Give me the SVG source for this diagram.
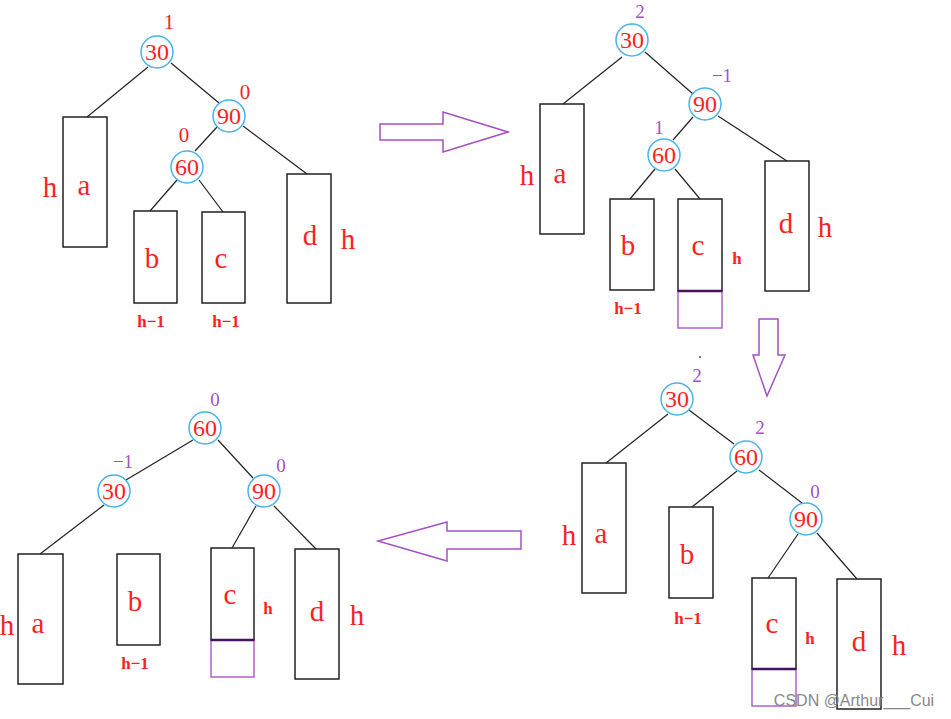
<svg xmlns="http://www.w3.org/2000/svg" width="951" height="719" viewBox="0 0 951 719">
<style>
text{font-family:"Liberation Serif",serif;fill:#ff1f1f;text-anchor:middle}
.n{font-size:24px}
.L{font-size:29px}
.s{font-size:17px;font-weight:bold}
.bf{font-size:21px}
.p{fill:#a64fc4;font-size:19px}
circle{fill:none;stroke:#45b4ea;stroke-width:1.5}
rect.t{fill:none;stroke:#222;stroke-width:1.5}
rect.x{fill:none;stroke:#b060c8;stroke-width:1.5}
line{stroke:#222;stroke-width:1.2}
.ar{fill:#fff;stroke:#a64fc4;stroke-width:1.5}
.dl{stroke:#4a1060;stroke-width:2.5}
</style>
<rect width="951" height="719" fill="#fff"/>
<g id="connectors">
<line x1="148" y1="67" x2="87" y2="117"/><line x1="171" y1="63" x2="219" y2="103"/>
<line x1="217" y1="127" x2="195" y2="151"/><line x1="243" y1="126" x2="307" y2="174"/>
<line x1="177" y1="180" x2="150" y2="211"/><line x1="199" y1="180" x2="223" y2="212"/>
<line x1="622" y1="57" x2="563" y2="104"/><line x1="645" y1="52" x2="693" y2="94"/>
<line x1="693" y1="117" x2="673" y2="140"/><line x1="718" y1="116" x2="787" y2="161"/>
<line x1="655" y1="169" x2="630" y2="199"/><line x1="675" y1="169" x2="700" y2="199"/>
<line x1="668" y1="414" x2="606" y2="463"/><line x1="689" y1="410" x2="734" y2="444"/>
<line x1="737" y1="471" x2="692" y2="507"/><line x1="759" y1="470" x2="802" y2="503"/>
<line x1="798" y1="534" x2="768" y2="578"/><line x1="817" y1="533" x2="857" y2="579"/>
<line x1="193" y1="440" x2="126" y2="480"/><line x1="218" y1="440" x2="253" y2="478"/>
<line x1="104" y1="505" x2="40" y2="554"/><line x1="256" y1="506" x2="232" y2="548"/>
<line x1="274" y1="506" x2="316" y2="549"/>
</g>
<g id="arrows">
<polygon class="ar" points="380,124 443,124 443,112 508,132 443,152 443,140 380,140"/>
<polygon class="ar" points="759,319 778,319 778,355 785,355 767,396 753,355 759,355"/>
<polygon class="ar" points="521,531 447,531 447,522 378,541 447,561 447,549 521,549"/>
</g>
<g id="tree1">
<g id="t1-30"><circle cx="157" cy="52" r="16"/><text class="n" x="157" y="60">30</text><text class="bf" x="169" y="29">1</text></g>
<g id="t1-90"><circle cx="229" cy="116" r="16"/><text class="n" x="229" y="124">90</text><text class="bf" x="245" y="99">0</text></g>
<g id="t1-60"><circle cx="187" cy="167" r="16"/><text class="n" x="187" y="175">60</text><text class="bf" x="184" y="142">0</text></g>
<g id="t1-a"><rect class="t" x="63" y="117" width="44" height="130"/><text class="L" x="84" y="195">a</text><text class="L" x="50" y="197">h</text></g>
<g id="t1-b"><rect class="t" x="134" y="211" width="43" height="92"/><text class="L" x="152" y="268">b</text><text class="s" x="151" y="327">h−1</text></g>
<g id="t1-c"><rect class="t" x="202" y="212" width="43" height="91"/><text class="L" x="221" y="268">c</text><text class="s" x="226" y="327">h−1</text></g>
<g id="t1-d"><rect class="t" x="287" y="174" width="44" height="129"/><text class="L" x="310" y="245">d</text><text class="L" x="348" y="249">h</text></g>
</g>
<g id="tree2">
<g id="t2-30"><circle cx="632" cy="40" r="16"/><text class="n" x="632" y="48">30</text><text class="p" x="640" y="18">2</text></g>
<g id="t2-90"><circle cx="705" cy="104" r="16"/><text class="n" x="705" y="112">90</text><text class="p" x="722" y="82">−1</text></g>
<g id="t2-60"><circle cx="664" cy="155" r="16"/><text class="n" x="664" y="163">60</text><text class="p" x="659" y="134">1</text></g>
<g id="t2-a"><rect class="t" x="540" y="104" width="44" height="130"/><text class="L" x="560" y="183">a</text><text class="L" x="527" y="185">h</text></g>
<g id="t2-b"><rect class="t" x="610" y="199" width="44" height="91"/><text class="L" x="628" y="255">b</text><text class="s" x="628" y="314">h−1</text></g>
<g id="t2-c"><rect class="x" x="678" y="291" width="44" height="37"/><rect class="t" x="678" y="199" width="44" height="92"/><line class="dl" x1="678" y1="291" x2="722" y2="291"/><text class="L" x="698" y="255">c</text><text class="s" x="737" y="264">h</text></g>
<g id="t2-d"><rect class="t" x="765" y="161" width="44" height="130"/><text class="L" x="786" y="233">d</text><text class="L" x="825" y="237">h</text></g>
</g>
<g id="tree3">
<g id="t3-30"><circle cx="677" cy="399" r="16"/><text class="n" x="677" y="407">30</text><text class="p" x="697" y="382">2</text><circle cx="700" cy="357" r="1" style="fill:#4040c0;stroke:none"/></g>
<g id="t3-60"><circle cx="746" cy="457" r="16"/><text class="n" x="746" y="465">60</text><text class="p" x="760" y="434">2</text></g>
<g id="t3-90"><circle cx="806" cy="519" r="16"/><text class="n" x="806" y="527">90</text><text class="p" x="815" y="498">0</text></g>
<g id="t3-a"><rect class="t" x="582" y="463" width="44" height="130"/><text class="L" x="601" y="543">a</text><text class="L" x="569" y="545">h</text></g>
<g id="t3-b"><rect class="t" x="669" y="507" width="44" height="91"/><text class="L" x="687" y="564">b</text><text class="s" x="688" y="624">h−1</text></g>
<g id="t3-c"><rect class="x" x="752" y="669" width="44" height="37"/><rect class="t" x="752" y="578" width="44" height="91"/><line class="dl" x1="752" y1="669" x2="796" y2="669"/><text class="L" x="772" y="633">c</text><text class="s" x="810" y="644">h</text></g>
<g id="t3-d"><rect class="t" x="837" y="579" width="44" height="130"/><text class="L" x="859" y="651">d</text><text class="L" x="899" y="655">h</text></g>
</g>
<g id="tree4">
<g id="t4-60"><circle cx="205" cy="428" r="16"/><text class="n" x="205" y="436">60</text><text class="p" x="215" y="406">0</text></g>
<g id="t4-30"><circle cx="114" cy="491" r="16"/><text class="n" x="114" y="499">30</text><text class="p" x="123" y="468">−1</text></g>
<g id="t4-90"><circle cx="264" cy="491" r="16"/><text class="n" x="264" y="499">90</text><text class="p" x="281" y="472">0</text></g>
<g id="t4-a"><rect class="t" x="18" y="554" width="45" height="130"/><text class="L" x="38" y="633">a</text><text class="L" x="7" y="635">h</text></g>
<g id="t4-b"><rect class="t" x="117" y="554" width="43" height="91"/><text class="L" x="135" y="611">b</text><text class="s" x="135" y="669">h−1</text></g>
<g id="t4-c"><rect class="x" x="211" y="640" width="43" height="37"/><rect class="t" x="211" y="548" width="43" height="92"/><line class="dl" x1="211" y1="640" x2="254" y2="640"/><text class="L" x="230" y="604">c</text><text class="s" x="268" y="614">h</text></g>
<g id="t4-d"><rect class="t" x="295" y="549" width="44" height="130"/><text class="L" x="317" y="621">d</text><text class="L" x="357" y="625">h</text></g>
</g>
<text x="854" y="706" style="font-family:'Liberation Sans',sans-serif;font-size:16px;fill:#888">CSDN @Arthur___Cui</text>
</svg>
